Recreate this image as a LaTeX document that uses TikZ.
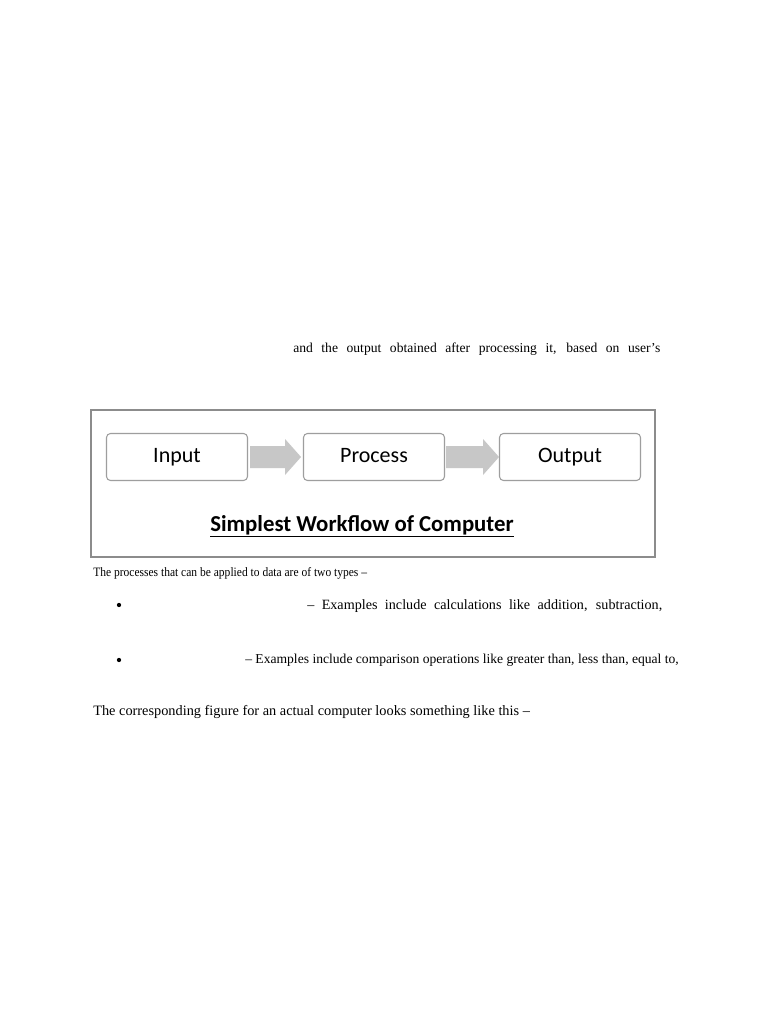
\documentclass[tikz,border=0pt]{standalone}
\usepackage{fontspec}
\setmainfont{Liberation Serif}
\newfontfamily\condserif[FakeStretch=0.90]{Liberation Serif}
\newfontfamily\calib{Carlito}
\definecolor{framegray}{gray}{0.55}
\definecolor{boxgray}{gray}{0.62}
\definecolor{arrowgray}{gray}{0.78}
\tikzset{
  bodytext/.style={anchor=base west, inner sep=0pt, font=\fontsize{10.5}{12}\selectfont},
  stagebox/.style={draw=boxgray, line width=0.8pt, rounded corners=3pt, fill=white,
    minimum width=105.75pt, minimum height=35.25pt, inner sep=0pt,
    text height=12pt, text depth=3.5pt,
    font=\calib\fontsize{16.5}{18}\selectfont},
  flowarrow/.style={fill=arrowgray, draw=none},
  bulletdot/.style={circle, fill=black, inner sep=0pt, minimum size=3.2pt}
}
\begin{document}
\begin{tikzpicture}[x=0.75pt, y=-0.75pt]
\useasboundingbox[fill=white] (0,0) rectangle (768,1024);
% top partial line
\node[bodytext, font=\fontsize{10.2}{12}\selectfont] (l1) at (293,352) {\makebox[275.25pt][s]{and the output obtained after processing it, based on user's}};
% figure frame
\draw[framegray, line width=0.8pt] (91,410) rectangle (655,557);
\node[stagebox] (in) at (177,457) {Input};
\node[stagebox] (pr) at (374,457) {Process};
\node[stagebox] (out) at (570,457) {Output};
% block arrows
\fill[flowarrow] (in.east) ++(2,-11) -- ++(35,0) -- ++(0,-7) -- ++(16,18) -- ++(-16,18) -- ++(0,-7) -- ++(-35,0) -- cycle;
\fill[flowarrow] (pr.east) ++(1,-11) -- ++(37,0) -- ++(0,-7) -- ++(16,18) -- ++(-16,18) -- ++(0,-7) -- ++(-37,0) -- cycle;
\node[anchor=base, inner sep=0pt, font=\calib\bfseries\fontsize{17.1}{19}\selectfont] (title) at (362,531) {\underline{Simplest Workflow of Computer}};
% text below
\node[bodytext, font=\condserif\fontsize{9.6}{11}\selectfont] (p1) at (93,576) {The processes that can be applied to data are of two types –};
\node[bulletdot] (b1) at (119,605) {};
\node[bodytext, font=\fontsize{10.6}{12}\selectfont] (t1) at (307,609) {\makebox[266.25pt][s]{– Examples include calculations like addition, subtraction,}};
\node[bulletdot] (b2) at (119,660) {};
\node[bodytext, font=\fontsize{10.2}{12}\selectfont] (t2) at (245,663) {– Examples include comparison operations like greater than, less than, equal to,};
\node[bodytext, font=\fontsize{10.75}{13}\selectfont] (p2) at (93,715) {The corresponding figure for an actual computer looks something like this –};
\end{tikzpicture}
\end{document}
